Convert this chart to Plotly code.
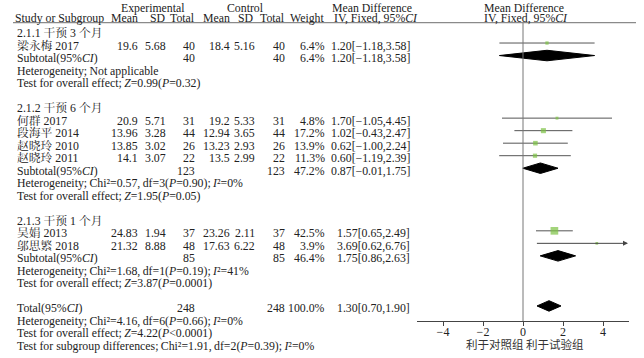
import plotly.graph_objects as go
import math

W, H = 644, 358

# ---------------- data ----------------
study_names = ["梁永梅 2017", "何群 2017", "段海平 2014", "赵晓玲 2010", "赵晓玲 2011", "吴娟 2013", "邬思繁 2018"]
study_rows = [1, 7, 8, 9, 10, 16, 17]
exp_mean = ["19.6", "20.9", "13.96", "13.85", "14.1", "24.83", "21.32"]
exp_sd = ["5.68", "5.71", "3.28", "3.02", "3.07", "1.94", "8.88"]
exp_n = ["40", "31", "44", "26", "22", "37", "48"]
ctl_mean = ["18.4", "19.2", "12.94", "13.23", "13.5", "23.26", "17.63"]
ctl_sd = ["5.16", "5.33", "3.65", "2.93", "2.99", "2.11", "6.22"]
ctl_n = ["40", "31", "44", "26", "22", "37", "48"]
weights = [6.4, 4.8, 17.2, 13.9, 11.3, 42.5, 3.9]
md = [1.20, 1.70, 1.02, 0.62, 0.60, 1.57, 3.69]
lo = [-1.18, -1.05, -0.43, -1.00, -1.19, 0.65, 0.62]
hi = [3.58, 4.45, 2.47, 2.24, 2.39, 2.49, 6.76]

group_labels = ["2.1.1 干预 3 个月", "2.1.2 干预 6 个月", "2.1.3 干预 1 个月"]
group_rows = [0, 6, 15]

sub_labels = ["Subtotal(95%<i>CI</i>)", "Subtotal(95%<i>CI</i>)", "Subtotal(95%<i>CI</i>)", "Total(95%<i>CI</i>)"]
sub_rows = [2, 11, 18, 22]
sub_exp_n = ["40", "123", "85", "248"]
sub_ctl_n = ["40", "123", "85", "248"]
sub_w = [6.4, 47.2, 46.4, 100.0]
sub_md = [1.20, 0.87, 1.75, 1.30]
sub_lo = [-1.18, -0.01, 0.86, 0.70]
sub_hi = [3.58, 1.75, 2.63, 1.90]

note_rows = [3, 4, 12, 13, 19, 20, 23, 24, 25]
notes = [
    "Heterogeneity;Not applicable",
    "Test for overall effect;<i>Z</i>=0.99(<i>P</i>=0.32)",
    "Heterogeneity;Chi²=0.57,df=3(<i>P</i>=0.90);<i>I</i>²=0%",
    "Test for overall effect;<i>Z</i>=1.95(<i>P</i>=0.05)",
    "Heterogeneity;Chi²=1.68,df=1(<i>P</i>=0.19);<i>I</i>²=41%",
    "Test for overall effect;<i>Z</i>=3.87(<i>P</i>=0.0001)",
    "Heterogeneity;Chi²=4.16,df=6(<i>P</i>=0.66);<i>I</i>²=0%",
    "Test for overall effect;<i>Z</i>=4.22(<i>P</i><0.0001)",
    "Test for subgroup differences;Chi²=1.91,df=2(<i>P</i>=0.39);<i>I</i>²=0%",
]

x_ticks = [-4, -2, 0, 2, 4]
x_lim = [-5.3, 5.3]
favours = "利于对照组 利于试验组"

# ---------------- layout helpers ----------------
FONT = "Liberation Serif, Times New Roman, Noto Serif CJK SC, Noto Sans CJK SC, serif"
TXT = "#222222"
FS = 11.8
ROW0, ROWH = 30.5, 12.52
y_top = (0 - ROW0) / ROWH
y_bot = (H - ROW0) / ROWH
AXIS_Y = 321


def px(x):
    return x / W


def py(y):
    return 1 - y / H


def spaced(s):
    # small spacing after punctuation, as in the typeset original
    return s.replace(";", ";\u2009").replace(",", ",\u2009")


fig = go.Figure()
ann = []


def text(x, row, s, anchor="left", size=FS):
    ann.append(dict(x=px(x), xref="paper", y=row, yref="y", text=s, showarrow=False,
                    xanchor=anchor, yanchor="middle", yshift=-2.5,
                    font=dict(family=FONT, size=size, color=TXT)))


def headtext(x, y, s, anchor="left"):
    ann.append(dict(x=px(x), xref="paper", y=py(y), yref="paper", text=s, showarrow=False,
                    xanchor=anchor, yanchor="middle",
                    font=dict(family=FONT, size=FS, color=TXT)))


# headers
headtext(153, 8, "Experimental", "center")
headtext(245, 8, "Control", "center")
headtext(330, 8, "Mean Difference")
headtext(482, 8, "Mean Difference")
headtext(13, 18, "Study or Subgroup")
headtext(140, 18, "Mean", "right")
headtext(168, 18, "SD", "right")
headtext(197, 18, "Total", "right")
headtext(232, 18, "Mean", "right")
headtext(256, 18, "SD", "right")
headtext(287, 18, "Total", "right")
headtext(327, 18, "Weight", "right")
headtext(332, 18, "IV, Fixed, 95%<i>CI</i>")
headtext(482, 18, "IV, Fixed, 95%<i>CI</i>")

for r, s in zip(group_rows, group_labels):
    text(15, r, s)


def ci_str(m, l, h):
    return f"{m:.2f}[{l:.2f},{h:.2f}]".replace("-", "−")


for i, r in enumerate(study_rows):
    text(15, r, study_names[i])
    text(140, r, exp_mean[i], "right")
    text(168, r, exp_sd[i], "right")
    text(197, r, exp_n[i], "right")
    text(232, r, ctl_mean[i], "right")
    text(257, r, ctl_sd[i], "right")
    text(287, r, ctl_n[i], "right")
    text(327, r, f"{weights[i]:.1f}%", "right")
    text(412, r, ci_str(md[i], lo[i], hi[i]), "right")

for i, r in enumerate(sub_rows):
    text(15, r, sub_labels[i])
    text(197, r, sub_exp_n[i], "right")
    text(287, r, sub_ctl_n[i], "right")
    text(327, r, f"{sub_w[i]:.1f}%", "right")
    text(412, r, ci_str(sub_md[i], sub_lo[i], sub_hi[i]), "right")

for r, s in zip(note_rows, notes):
    text(15, r, spaced(s))

# favours label
ann.append(dict(x=px(525), xref="paper", y=py(344), yref="paper", text=favours, showarrow=False,
                xanchor="center", yanchor="middle",
                font=dict(family="Noto Sans CJK SC", size=11.5, color="#333333")))

# CI lines & squares
for i, r in enumerate(study_rows):
    if hi[i] > x_lim[1]:
        ann.append(dict(x=x_lim[1] - 0.05, y=r, xref="x", yref="y", ax=lo[i], ay=r,
                        axref="x", ayref="y", showarrow=True, arrowhead=2, arrowsize=1,
                        arrowwidth=1, arrowcolor="#444444", text=""))
    else:
        fig.add_trace(go.Scatter(x=[lo[i], hi[i]], y=[r, r], mode="lines",
                                 line=dict(color="#555555", width=1), hoverinfo="skip",
                                 showlegend=False))
fig.add_trace(go.Scatter(x=md, y=study_rows, mode="markers",
                         marker=dict(symbol="square", color="#7cc243",
                                     size=[1.1 * math.sqrt(w) + 0.5 for w in weights],
                                     line=dict(width=0)),
                         showlegend=False, hoverinfo="skip"))

# diamonds
hh = 0.42
for i, r in enumerate(sub_rows):
    fig.add_trace(go.Scatter(x=[sub_lo[i], sub_md[i], sub_hi[i], sub_md[i], sub_lo[i]],
                             y=[r, r - hh, r, r + hh, r], mode="lines", fill="toself",
                             fillcolor="black", line=dict(color="black", width=1),
                             showlegend=False, hoverinfo="skip"))

shapes = [
    dict(type="line", xref="paper", yref="paper", x0=px(13), x1=px(636), y0=py(22.7), y1=py(22.7),
         line=dict(color="#8a8a8a", width=1.3)),
    dict(type="line", xref="x", yref="paper", x0=0, x1=0, y0=py(23), y1=py(AXIS_Y),
         line=dict(color="#777777", width=1)),
]

fig.update_layout(
    width=W, height=H, margin=dict(l=0, r=0, t=0, b=0),
    paper_bgcolor="white", plot_bgcolor="rgba(0,0,0,0)",
    annotations=ann, shapes=shapes, showlegend=False,
    xaxis=dict(domain=[px(417), px(629)], range=x_lim, anchor="free", position=(H - AXIS_Y) / H,
               showline=True, linecolor="#444444", linewidth=1, ticks="outside", ticklen=4,
               tickcolor="#444444", tickvals=x_ticks,
               ticktext=[("−" if t < 0 else "") + str(abs(t)) for t in x_ticks],
               tickfont=dict(family=FONT, size=12, color=TXT), ticklabelstandoff=-4,
               showgrid=False, zeroline=False, fixedrange=True, automargin=False),
    yaxis=dict(domain=[0, 1], range=[y_bot, y_top], visible=False, fixedrange=True, automargin=False),
)

fig.write_html("out.html", config={"displayModeBar": False, "staticPlot": True},
               post_script="document.body.style.margin='0';document.body.style.overflow='hidden';")
